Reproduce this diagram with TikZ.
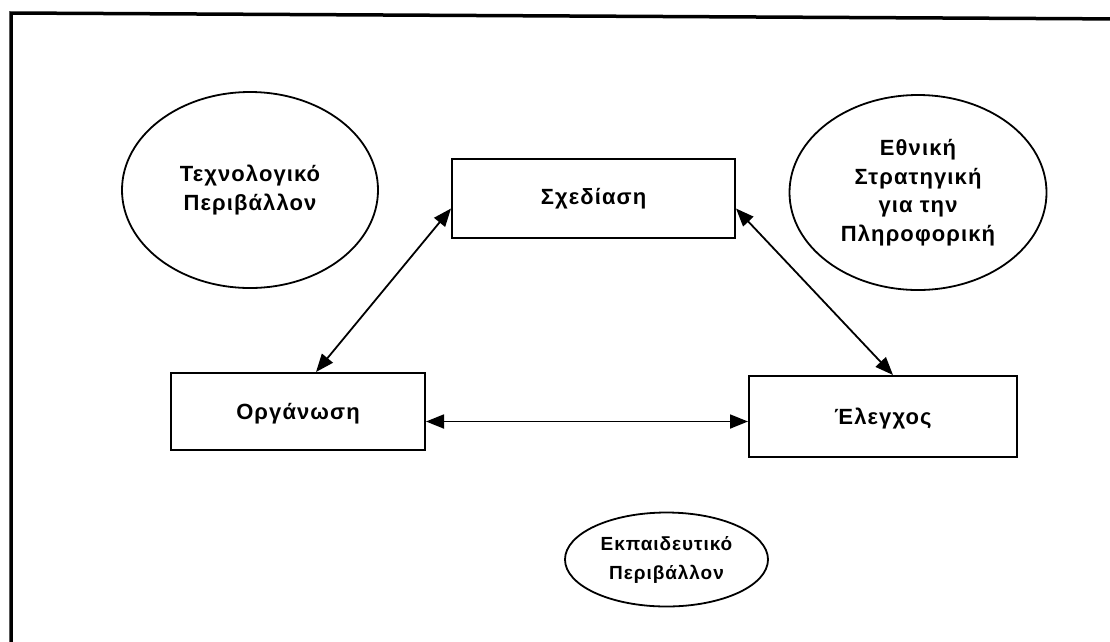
\documentclass[tikz,border=0pt]{standalone}
\usepackage{fontspec}
\setmainfont{Liberation Sans}[LetterSpace=5]
\usetikzlibrary{arrows.meta,shapes.geometric}
\tikzset{
  box/.style={draw,line width=2pt,inner sep=0pt,font=\bfseries\fontsize{22}{28}\selectfont},
  oval/.style={draw,ellipse,line width=1.8pt,inner sep=0pt,align=center,font=\bfseries\fontsize{22}{28.5}\selectfont},
  smalloval/.style={oval,font=\bfseries\fontsize{19}{29}\selectfont},
  link/.style={line width=1.8pt,{Triangle[length=18pt,width=14pt]}-{Triangle[length=18pt,width=14pt]}},
  frame/.style={line width=3.5pt}
}
\begin{document}
\begin{tikzpicture}[x=1pt,y=-1pt]
\useasboundingbox (0,0) rectangle (1110,641);
\draw[frame] (11,660) -- (11,13) -- (1130,19);
\node[box,minimum width=283pt,minimum height=79pt] (sx) at (593.5,198.5) {Σχεδίαση};
\node[box,minimum width=254pt,minimum height=77pt,text depth=-6pt] (org) at (298,411.5) {Οργάνωση};
\node[box,minimum width=268pt,minimum height=81pt,text depth=-4pt] (el) at (883,416.5) {Έλεγχος};
\node[oval,minimum width=256pt,minimum height=196pt] (tech) at (250,190) {Τεχνολογικό\\Περιβάλλον};
\node[oval,minimum width=257pt,minimum height=195pt] (ethn) at (918,192.5) {Εθνική\\Στρατηγική\\για την\\Πληροφορική};
\node[smalloval,minimum width=203pt,minimum height=94pt] (edu) at (666.5,559.5) {Εκπαιδευτικό\\Περιβάλλον};
\coordinate (a1) at ([yshift=-10pt]sx.west);
\coordinate (a2) at ([xshift=18pt]org.north);
\coordinate (b1) at ([yshift=-10pt]sx.east);
\coordinate (b2) at ([xshift=10pt]el.north);
\draw[link] (a1) -- (a2);
\draw[link] (b1) -- (b2);
\draw[link] ([yshift=-10pt]org.east) -- ([yshift=-10pt]org.east -| el.west);
\end{tikzpicture}
\end{document}
